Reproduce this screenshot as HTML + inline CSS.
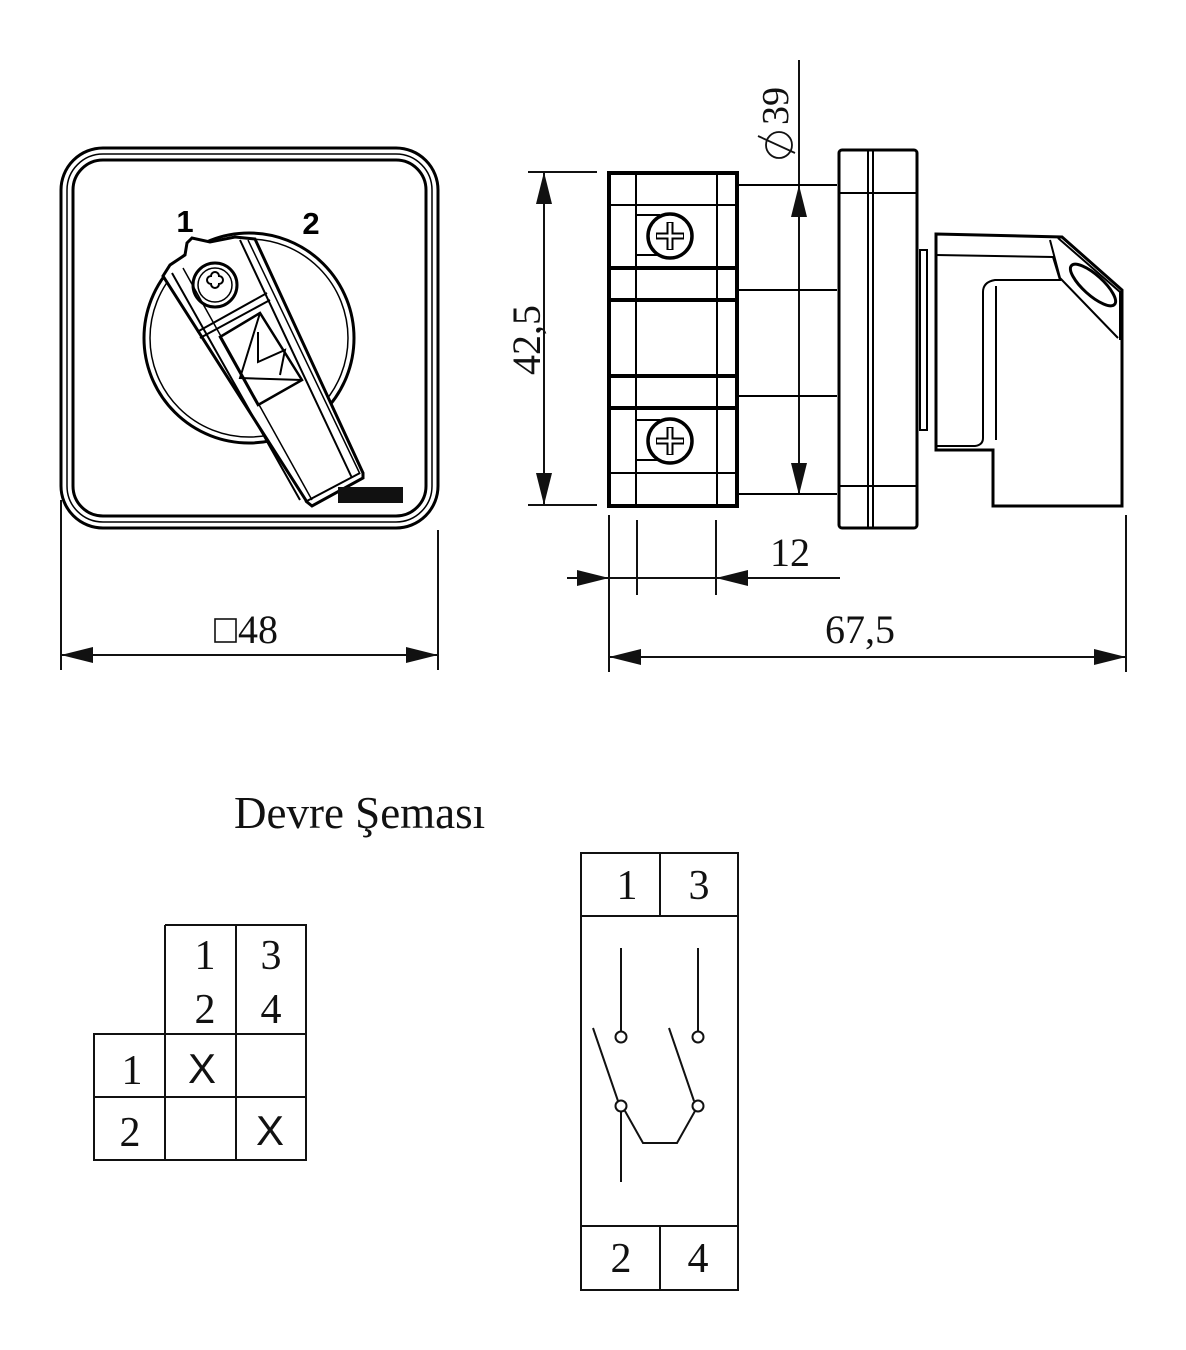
<!DOCTYPE html>
<html><head><meta charset="utf-8"><style>
html,body{margin:0;padding:0;background:#fff}
svg{display:block}
.s{font-family:"Liberation Serif",serif;fill:#111}
</style></head><body>
<svg width="1186" height="1350" viewBox="0 0 1186 1350" xmlns="http://www.w3.org/2000/svg">
<defs>
<marker id="a" markerWidth="32" markerHeight="16" refX="32" refY="8" orient="auto" markerUnits="userSpaceOnUse">
<path d="M0,0 L32,8 L0,16 Z" fill="#111"/></marker>
</defs>
<g fill="none" stroke="#000">
<rect x="61" y="148" width="377" height="380" rx="42" stroke-width="3"/>
<rect x="67" y="154" width="365" height="368" rx="36" stroke-width="1.5"/>
<rect x="73" y="160" width="353" height="356" rx="30" stroke-width="3"/>
<circle cx="249" cy="338" r="105" stroke-width="3"/>
<circle cx="249" cy="338" r="99" stroke-width="1.5"/>
<path d="M163,276 L170,265 L185,255 L187,243 L192,238 L210,242 L235,237 L255,239 L363,473 L363,478 L312,506 L307,502 Z" fill="#fff" stroke-width="3"/>
<path d="M172,273 L300,500" stroke-width="2"/>
<path d="M183,268 L312,500" stroke-width="1.5"/>
<path d="M240,240 L352,478" stroke-width="2"/>
<path d="M248,240 L360,474" stroke-width="1.5"/>
<path d="M197,332 L267,293 M200,338 L270,300" stroke-width="2"/>
<path d="M305,502 L360,473" stroke-width="2"/>
<circle cx="215" cy="285" r="22" stroke-width="3"/>
<circle cx="215" cy="285" r="17" stroke-width="1.5"/>
<path d="M211,276 a4,4 0 1,1 8,0 a4,4 0 1,1 0,8 a4,4 0 1,1 -8,0 a4,4 0 1,1 0,-8 Z" stroke-width="2"/>
<path d="M220,337 L260,313 L302,380 L258,405 Z" stroke-width="2.5"/>
<path d="M260,313 L240,378 L302,380 M258,332 L258,362 L285,350 L280,375" stroke-width="2"/>
<rect x="338" y="487" width="65" height="16" fill="#111" stroke="none"/>
</g>
<text x="185" y="232" font-family="Liberation Sans,sans-serif" font-weight="bold" font-size="31" text-anchor="middle">1</text>
<text x="311" y="234" font-family="Liberation Sans,sans-serif" font-weight="bold" font-size="31" text-anchor="middle">2</text>

<g stroke="#111" stroke-width="2" fill="none">
<line x1="61" y1="500" x2="61" y2="670"/>
<line x1="438" y1="530" x2="438" y2="670"/>
<line x1="95" y1="655" x2="61" y2="655" marker-end="url(#a)"/>
<line x1="400" y1="655" x2="438" y2="655" marker-end="url(#a)"/>
<line x1="95" y1="655" x2="400" y2="655"/>
<rect x="215" y="619" width="21" height="23" stroke-width="1.6"/>

<line x1="528" y1="172" x2="597" y2="172"/>
<line x1="528" y1="505" x2="597" y2="505"/>
<line x1="544" y1="205" x2="544" y2="172" marker-end="url(#a)"/>
<line x1="544" y1="472" x2="544" y2="505" marker-end="url(#a)"/>
<line x1="544" y1="205" x2="544" y2="472"/>

<line x1="799" y1="60" x2="799" y2="218"/>
<line x1="799" y1="218" x2="799" y2="185" marker-end="url(#a)"/>
<line x1="799" y1="460" x2="799" y2="495" marker-end="url(#a)"/>
<line x1="799" y1="218" x2="799" y2="460"/>
<circle cx="779" cy="145" r="13" stroke-width="1.8"/>
<line x1="758" y1="136" x2="795" y2="153" stroke-width="1.8"/>

<line x1="609" y1="515" x2="609" y2="672"/>
<line x1="637" y1="520" x2="637" y2="595"/>
<line x1="716" y1="520" x2="716" y2="595"/>
<line x1="1126" y1="515" x2="1126" y2="672"/>
<line x1="567" y1="578" x2="609" y2="578" marker-end="url(#a)"/>
<line x1="609" y1="578" x2="716" y2="578"/>
<line x1="840" y1="578" x2="716" y2="578" marker-end="url(#a)"/>
<line x1="650" y1="657" x2="609" y2="657" marker-end="url(#a)"/>
<line x1="1085" y1="657" x2="1126" y2="657" marker-end="url(#a)"/>
<line x1="650" y1="657" x2="1085" y2="657"/>
</g>
<text x="238" y="643" class="s" font-size="40">48</text>
<text x="527" y="340" class="s" font-size="40" text-anchor="middle" transform="rotate(-90 527 340)" dy="13">42,5</text>
<text x="788" y="106" class="s" font-size="38" text-anchor="middle" transform="rotate(-90 788 106)" dy="0">39</text>
<text x="790" y="566" class="s" font-size="40" text-anchor="middle">12</text>
<text x="860" y="643" class="s" font-size="40" text-anchor="middle">67,5</text>

<g fill="none" stroke="#000">
<rect x="609" y="173" width="128" height="333" stroke-width="4"/>
<line x1="636" y1="173" x2="636" y2="506" stroke-width="2"/>
<line x1="717" y1="173" x2="717" y2="506" stroke-width="2"/>
<line x1="609" y1="205" x2="737" y2="205" stroke-width="2"/>
<line x1="609" y1="268" x2="737" y2="268" stroke-width="4"/>
<line x1="609" y1="300" x2="737" y2="300" stroke-width="4"/>
<line x1="609" y1="376" x2="737" y2="376" stroke-width="4"/>
<line x1="609" y1="408" x2="737" y2="408" stroke-width="4"/>
<line x1="609" y1="473" x2="737" y2="473" stroke-width="2"/>
<path d="M637,215 L660,215 M637,255 L660,255" stroke-width="2"/>
<path d="M637,420 L660,420 M637,460 L660,460" stroke-width="2"/>
<circle cx="670" cy="236" r="22" fill="#fff" stroke-width="3.5"/>
<path d="M670,222 V250 M656,236 H684" stroke-width="7"/>
<path d="M670,223 V249 M657,236 H683" stroke="#fff" stroke-width="3"/>
<circle cx="670" cy="441" r="22" fill="#fff" stroke-width="3.5"/>
<path d="M670,427 V455 M656,441 H684" stroke-width="7"/>
<path d="M670,428 V454 M657,441 H683" stroke="#fff" stroke-width="3"/>
<line x1="737" y1="185" x2="837" y2="185" stroke-width="2"/>
<line x1="737" y1="290" x2="837" y2="290" stroke-width="2"/>
<line x1="737" y1="396" x2="837" y2="396" stroke-width="2"/>
<line x1="737" y1="494" x2="837" y2="494" stroke-width="2"/>
<rect x="839" y="150" width="78" height="378" rx="3" stroke-width="3"/>
<line x1="868" y1="150" x2="868" y2="528" stroke-width="2"/>
<line x1="873" y1="150" x2="873" y2="528" stroke-width="2"/>
<line x1="839" y1="193" x2="917" y2="193" stroke-width="2"/>
<line x1="839" y1="486" x2="917" y2="486" stroke-width="2"/>
<rect x="920" y="250" width="7" height="180" stroke-width="2"/>
<path d="M936,234 L1062,237 L1122,290 L1122,506 L993,506 L993,450 L936,450 Z" stroke-width="3"/>
<path d="M936,255 L1053,257 L1060,280 L995,280 Q983,282 983,292 L983,438 Q983,445 975,446 L936,446" stroke-width="2"/>
<line x1="996" y1="286" x2="996" y2="440" stroke-width="2"/>
<path d="M1050,240 L1060,278 L1118,338" stroke-width="2"/>
<path d="M1058,238 L1120,292 L1120,340" stroke-width="2"/>
<ellipse cx="1093" cy="285" rx="29" ry="10" transform="rotate(42 1093 285)" stroke-width="3"/>
</g>

<text x="234" y="828" class="s" font-size="45">Devre Şeması</text>
<g stroke="#111" stroke-width="2" fill="none">
<path d="M165,925 H306 V1160 H94 V1034 H306 M94,1097 H306 M165,925 V1160 M236,925 V1160"/>
<rect x="581" y="853" width="157" height="437"/>
<path d="M581,916 H738 M581,1226 H738 M660,853 V916 M660,1226 V1290"/>
<path d="M621,948 V1031 M698,948 V1031 M621,1112 V1182"/>
<circle cx="621" cy="1037" r="5.5"/><circle cx="698" cy="1037" r="5.5"/>
<circle cx="621" cy="1106" r="5.5"/><circle cx="698" cy="1106" r="5.5"/>
<path d="M593,1028 L618,1101 M669,1028 L694,1101"/>
<path d="M625,1111 L643,1143 L677,1143 L695,1111"/>
</g>
<g class="s" font-size="42" text-anchor="middle">
<text x="205" y="969">1</text><text x="205" y="1023">2</text>
<text x="271" y="969">3</text><text x="271" y="1023">4</text>
<text x="132" y="1084">1</text><text x="130" y="1146">2</text>
<text x="627" y="899">1</text><text x="699" y="899">3</text>
<text x="621" y="1272">2</text><text x="698" y="1272">4</text>
</g>
<g font-family="Liberation Sans,sans-serif" font-size="42" text-anchor="middle" fill="#111">
<text x="202" y="1083">X</text><text x="270" y="1145">X</text>
</g>
</svg>
</body></html>
